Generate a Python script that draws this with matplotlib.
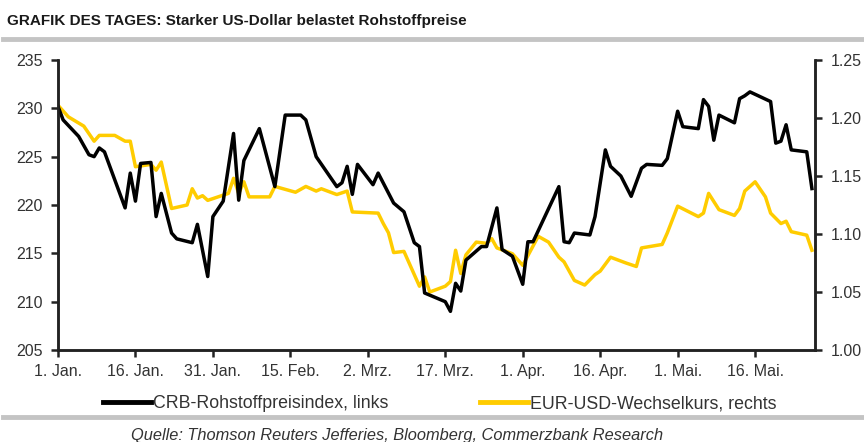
import pandas as pd
import matplotlib.pyplot as plt
from matplotlib.lines import Line2D

plt.rcParams['font.family'] = ['Liberation Sans', 'DejaVu Sans']

# CRB-Rohstoffpreisindex (Tag seit 1. Jan. 2015, Wert)
crb_day = [0, 1, 4, 6, 7, 8, 9, 13, 14, 15, 16, 18, 19, 20, 22, 23, 26, 27, 29, 30,
           32, 34, 35, 36, 39, 42, 44, 47, 48, 50, 54, 55, 56, 57, 58, 61, 62, 65, 67, 69,
           70, 71, 75, 76, 77, 78, 79, 82, 83, 85, 86, 88, 90, 91, 92, 97, 98, 99, 100, 103,
           104, 106, 107, 109, 111, 113, 114, 117, 118, 120, 121, 124, 125, 126, 127, 128, 131, 132, 133, 134,
           138, 139, 140, 141, 142, 145, 146]
crb_val = [230.2, 228.8, 227.1, 225.2, 225.0, 225.9, 225.5, 219.7, 223.3, 220.4, 224.3, 224.4, 218.8, 221.2, 217.1, 216.5, 216.1, 218.0, 212.6, 218.8,
           220.4, 227.4, 220.5, 224.6, 227.9, 221.9, 229.3, 229.3, 228.8, 225.0, 221.9, 222.3, 224.0, 221.1, 224.2, 222.1, 223.3, 220.2, 219.3, 216.1,
           215.7, 210.9, 210.0, 209.0, 211.9, 211.1, 214.3, 215.7, 215.7, 219.7, 215.4, 214.7, 211.8, 216.2, 216.2, 221.9, 216.2, 216.1, 217.1, 216.9,
           218.8, 225.7, 224.0, 223.0, 220.9, 223.8, 224.2, 224.1, 224.8, 229.7, 228.1, 227.9, 230.9, 230.2, 226.7, 229.3, 228.5, 231.0, 231.3, 231.7,
           230.7, 226.4, 226.6, 228.3, 225.7, 225.5, 221.7]

# EUR-USD-Wechselkurs
eur_day = [0, 2, 5, 7, 8, 11, 13, 14, 15, 18, 19, 20, 22, 25, 26, 27, 28, 29, 33, 34,
           35, 36, 37, 41, 42, 46, 48, 50, 51, 54, 56, 57, 62, 63, 64, 65, 67, 70, 71, 72,
           75, 76, 77, 78, 79, 81, 83, 84, 85, 88, 90, 93, 95, 97, 98, 100, 102, 104, 105, 107,
           110, 112, 113, 117, 118, 120, 124, 125, 126, 128, 131, 132, 133, 135, 137, 138, 140, 141, 142, 145,
           146]
eur_val = [1.211, 1.201, 1.193, 1.180, 1.185, 1.185, 1.180, 1.180, 1.158, 1.160, 1.155, 1.162, 1.122, 1.125, 1.139, 1.131, 1.133, 1.129, 1.135, 1.148,
           1.135, 1.145, 1.132, 1.132, 1.141, 1.136, 1.141, 1.137, 1.139, 1.134, 1.137, 1.119, 1.118, 1.109, 1.101, 1.084, 1.085, 1.055, 1.063, 1.050,
           1.055, 1.059, 1.086, 1.066, 1.082, 1.093, 1.092, 1.096, 1.088, 1.083, 1.073, 1.098, 1.093, 1.080, 1.076, 1.060, 1.056, 1.065, 1.068, 1.080,
           1.075, 1.072, 1.088, 1.091, 1.101, 1.124, 1.115, 1.118, 1.135, 1.121, 1.116, 1.122, 1.137, 1.145, 1.132, 1.118, 1.109, 1.111, 1.102, 1.099,
           1.086]

tick_dates = ['2015-01-01', '2015-01-16', '2015-01-31', '2015-02-15', '2015-03-02',
              '2015-03-17', '2015-04-01', '2015-04-16', '2015-05-01', '2015-05-16']
tick_labels = ['1. Jan.', '16. Jan.', '31. Jan.', '15. Feb.', '2. Mrz.',
               '17. Mrz.', '1. Apr.', '16. Apr.', '1. Mai.', '16. Mai.']

start = pd.Timestamp('2015-01-01')
crb_x = start + pd.to_timedelta(crb_day, unit='D')
eur_x = start + pd.to_timedelta(eur_day, unit='D')

black = '#000000'
gold = '#FFCC00'
txt = '#333333'

fig = plt.figure(figsize=(8.64, 4.42), dpi=100)
ax = fig.add_axes([0.0671, 0.2081, 0.8762, 0.6562])
ax2 = ax.twinx()

ax2.plot(eur_x, eur_val, color=gold, lw=2.5, solid_joinstyle='round')
ax.plot(crb_x, crb_val, color=black, lw=2.5, solid_joinstyle='round')
ax.set_zorder(ax2.get_zorder() + 1)
ax.patch.set_visible(False)

ax.set_ylim(205, 235)
ax.set_yticks([205, 210, 215, 220, 225, 230, 235])
ax2.set_ylim(1.00, 1.25)
ax2.set_yticks([1.00, 1.05, 1.10, 1.15, 1.20, 1.25])
ax2.yaxis.set_major_formatter(plt.FuncFormatter(lambda v, p: f'{v:.2f}'))
ax.set_xlim(start, start + pd.Timedelta(days=146.6))
ax.set_xticks(pd.to_datetime(tick_dates))
ax.set_xticklabels(tick_labels)

for a in (ax, ax2):
    a.spines['top'].set_visible(False)
    for s in a.spines.values():
        s.set_linewidth(1.8)
        s.set_color('#222222')
    a.tick_params(length=5, width=1.8, color='#222222', labelsize=11.5, labelcolor=txt)
ax.tick_params(axis='y', pad=6)
ax2.tick_params(axis='y', pad=6)
ax.tick_params(axis='x', pad=5)

fig.text(0.008, 0.953, 'GRAFIK DES TAGES: Starker US-Dollar belastet Rohstoffpreise',
         fontsize=11, fontweight='bold', color='#1a1a1a', va='center')
fig.add_artist(Line2D([0.004, 1.0], [0.912, 0.912], color='#c4c4c4', lw=3.5))
fig.add_artist(Line2D([0.004, 1.0], [0.057, 0.057], color='#c4c4c4', lw=3.5))

handles = [Line2D([], [], color=black, lw=3.5), Line2D([], [], color=gold, lw=3.5)]
fig.legend(handles, ['CRB-Rohstoffpreisindex, links', 'EUR-USD-Wechselkurs, rechts'],
           loc='center', bbox_to_anchor=(0.509, 0.086), ncol=2, frameon=False,
           fontsize=12.8, labelcolor=txt, handlelength=2.7, handletextpad=0.1,
           columnspacing=5.2)

fig.text(0.46, 0.015, 'Quelle: Thomson Reuters Jefferies, Bloomberg, Commerzbank Research',
         fontsize=11.8, style='italic', color=txt, ha='center', va='center')

fig.savefig('out.png', dpi=100)
